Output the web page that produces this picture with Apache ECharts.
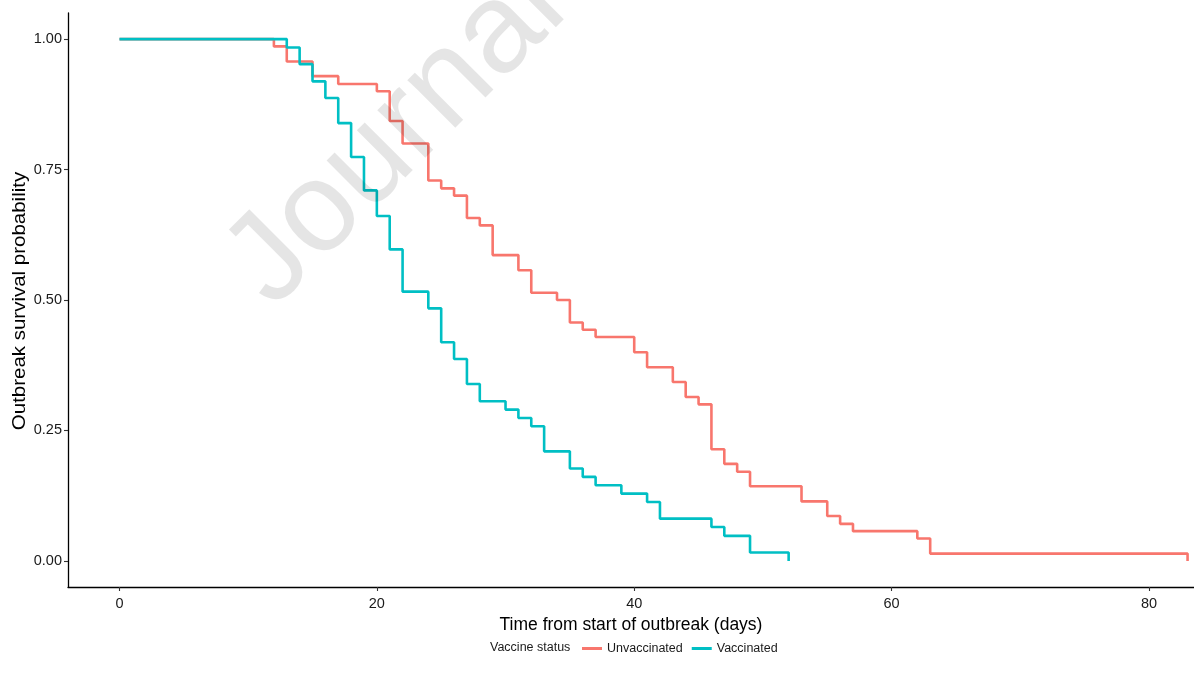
<!DOCTYPE html>
<html>
<head>
<meta charset="utf-8">
<script src="https://cdn.jsdelivr.net/npm/echarts@6/dist/echarts.min.js"></script>
<style>
html, body { margin: 0; padding: 0; background: #fff; }
#km-chart { width: 1194px; height: 684px; }
</style>
</head>
<body>
<div id="km-chart"></div>
<script>
// Kaplan-Meier style outbreak survival
var unvaccTimes = [0, 12, 13, 15, 17, 20, 21, 22, 24, 25, 26, 27, 28, 29, 31, 32, 34, 35, 36, 37,
                   40, 41, 43, 44, 45, 46, 47, 48, 49, 53, 55, 56, 57, 62, 63, 83];
var unvaccSurv  = [1, 0.986, 0.957, 0.929, 0.914, 0.900, 0.843, 0.800, 0.729, 0.714, 0.700, 0.657,
                   0.643, 0.586, 0.557, 0.514, 0.500, 0.457, 0.443, 0.429, 0.400, 0.371, 0.343,
                   0.314, 0.300, 0.214, 0.186, 0.171, 0.143, 0.114, 0.086, 0.071, 0.057, 0.043,
                   0.014, 0];

var vaccTimes = [0, 13, 14, 15, 16, 17, 18, 19, 20, 21, 22, 24, 25, 26, 27, 28, 30, 31, 32, 33,
                 35, 36, 37, 39, 41, 42, 46, 47, 49, 52];
var vaccSurv  = [1, 0.984, 0.952, 0.919, 0.887, 0.839, 0.774, 0.710, 0.661, 0.597, 0.516, 0.484,
                 0.419, 0.387, 0.339, 0.306, 0.290, 0.274, 0.258, 0.210, 0.177, 0.161, 0.145,
                 0.129, 0.113, 0.081, 0.065, 0.048, 0.016, 0];

var xTicks = [0, 20, 40, 60, 80];
var yTicks = [0, 0.25, 0.5, 0.75, 1];

var FONT = 'Liberation Sans, Arial, Helvetica, sans-serif';

function pairs(xs, ys) {
  return xs.map(function (x, i) { return [x, ys[i]]; });
}

var km_chart = echarts.init(document.getElementById('km-chart'));

var option = {
  animation: false,
  backgroundColor: '#fff',
  grid: { left: 68, right: 0, top: 13, bottom: 97, outerBoundsMode: 'none' },
  legend: {
    data: ['Unvaccinated', 'Vaccinated'],
    left: 577,
    top: 637,
    icon: 'rect',
    itemWidth: 20,
    itemHeight: 3,
    itemGap: 9,
    textStyle: { fontFamily: FONT, fontSize: 12.5, color: '#1a1a1a' }
  },
  xAxis: {
    type: 'value',
    min: -4,
    max: 83.5,
    name: 'Time from start of outbreak (days)',
    nameLocation: 'middle',
    nameGap: 29,
    nameTextStyle: { fontFamily: FONT, fontSize: 17.5, color: '#000' },
    splitLine: { show: false },
    axisLine: { onZero: false, lineStyle: { color: '#000', width: 1.3 } },
    axisTick: { length: 4, lineStyle: { color: '#333', width: 1.1 }, customValues: xTicks },
    axisLabel: { fontFamily: FONT, fontSize: 14.5, color: '#1a1a1a', margin: 9, customValues: xTicks }
  },
  yAxis: {
    type: 'value',
    min: -0.05,
    max: 1.05,
    splitLine: { show: false },
    axisLine: { show: true, onZero: false, lineStyle: { color: '#000', width: 1.3 } },
    axisTick: { show: true, length: 4, lineStyle: { color: '#333', width: 1.1 }, customValues: yTicks },
    axisLabel: {
      fontFamily: FONT, fontSize: 14.5, color: '#1a1a1a', margin: 6, customValues: yTicks,
      formatter: function (v) { return v.toFixed(2); }
    }
  },
  graphic: [
    {
      // y axis title, stretched along its length like the source figure
      type: 'text',
      x: 20,
      y: 301,
      rotation: Math.PI / 2,
      scaleX: 1.17,
      style: {
        text: 'Outbreak survival probability',
        font: '17.5px ' + FONT,
        fill: '#000',
        textAlign: 'center',
        textVerticalAlign: 'middle'
      }
    },
    {
      type: 'text',
      left: 490,
      top: 641,
      style: { text: 'Vaccine status', font: '12.5px ' + FONT, fill: '#1a1a1a' }
    },
    {
      type: 'text',
      x: 248,
      y: 285,
      rotation: Math.PI / 4,
      z: 100,
      silent: true,
      style: {
        text: 'Journal',
        font: '128px ' + FONT,
        fill: 'rgba(0,0,0,0.1)',
        textAlign: 'left',
        textVerticalAlign: 'middle'
      }
    }
  ],
  series: [
    {
      name: 'Unvaccinated',
      type: 'line',
      step: 'end',
      symbol: 'none',
      color: '#F8766D',
      lineStyle: { width: 2.6 },
      data: pairs(unvaccTimes, unvaccSurv)
    },
    {
      name: 'Vaccinated',
      type: 'line',
      step: 'end',
      symbol: 'none',
      color: '#00BFC4',
      lineStyle: { width: 2.6 },
      data: pairs(vaccTimes, vaccSurv)
    }
  ]
};

km_chart.setOption(option);
</script>
</body>
</html>
